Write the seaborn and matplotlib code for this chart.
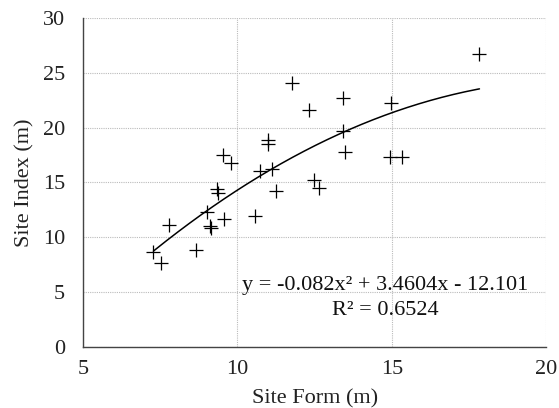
import numpy as np
import pandas as pd
import matplotlib
matplotlib.use("Agg")
import matplotlib.pyplot as plt
import seaborn as sns

site_form = [7.28, 7.53, 7.79, 8.65, 9.03, 9.10, 9.16, 9.58, 9.35, 9.38,
             9.55, 9.78, 10.57, 10.73, 11.13, 11.00, 11.00, 11.24, 11.78, 12.33,
             12.48, 12.65, 13.41, 13.41, 13.47, 14.98, 14.95, 15.32, 17.84]
site_index = [8.69, 7.63, 11.09, 8.84, 12.31, 11.00, 10.85, 11.70, 14.37, 14.00,
              17.50, 16.80, 11.97, 16.04, 16.20, 18.87, 18.48, 14.22, 24.04, 21.60,
              15.22, 14.52, 22.67, 19.69, 17.80, 22.27, 17.29, 17.29, 26.71]
coef = [-0.082, 3.4604, -12.101]
x_ticks = [5, 10, 15, 20]
y_ticks = [0, 5, 10, 15, 20, 25, 30]

sns.set_theme(style="white")
plt.rcParams['font.family'] = ['Liberation Serif', 'DejaVu Serif']

fig = plt.figure(figsize=(5.59, 4.08), dpi=100)
ax = fig.add_axes([0.1485, 0.1495, 0.8285, 0.8065])

df = pd.DataFrame({"x": site_form, "y": site_index})
sns.scatterplot(data=df, x="x", y="y", marker="+", color="black", s=100,
                linewidth=0.9, ax=ax, zorder=3)

xs = np.linspace(min(site_form), max(site_form), 200)
ys = np.polyval(coef, xs)
sns.lineplot(x=xs, y=ys, color="black", linewidth=1.1, ax=ax, zorder=2)

ax.set_xlim(5, 20)
ax.set_ylim(0, 30)
ax.set_xticks(x_ticks)
ax.set_yticks(y_ticks)
ax.grid(True, color="#bbbbbb", linestyle=(0, (1, 1)), linewidth=0.8)
ax.set_axisbelow(True)
for s in ["top", "right"]:
    ax.spines[s].set_visible(False)
for s in ["left", "bottom"]:
    ax.spines[s].set_color("#444444")
    ax.spines[s].set_linewidth(1.0)
ax.tick_params(axis="both", direction="out", length=4, width=0.8, color="#444444",
               labelsize=16, labelcolor="#222222")
ax.tick_params(axis="y", pad=9)
ax.tick_params(axis="x", pad=5)
ax.set_xlabel("Site Form (m)", fontsize=16, color="#222222", labelpad=8)
ax.set_ylabel("Site Index (m)", fontsize=16, color="#222222", labelpad=6)

ax.text(14.78, 5.65, "y = -0.082x² + 3.4604x - 12.101", ha="center", va="center",
        fontsize=16, color="#111111")
ax.text(14.78, 3.37, "R² = 0.6524", ha="center", va="center",
        fontsize=16, color="#111111")

fig.savefig("out.png", dpi=100)
